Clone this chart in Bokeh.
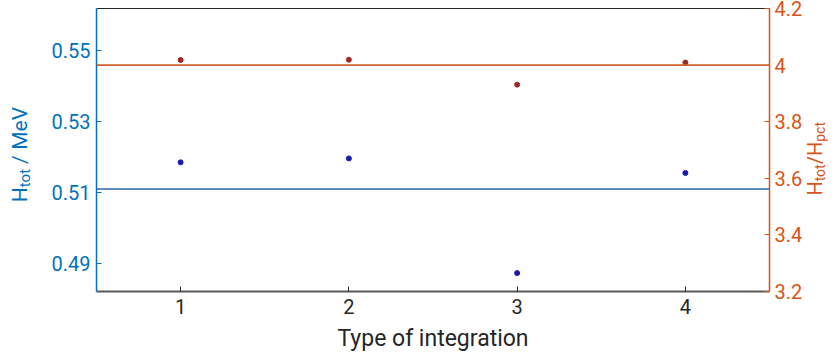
from bokeh.plotting import figure
from bokeh.models import (Range1d, LinearAxis, FixedTicker, Span, ColumnDataSource, Div)
from bokeh.layouts import row
from bokeh.embed import file_html
from bokeh.resources import INLINE

# ---- data ----
integration_type = [1, 2, 3, 4]
h_tot_mev = [0.5185, 0.5196, 0.4873, 0.5155]
h_ratio = [4.018, 4.019, 3.931, 4.009]
h_tot_reference = 0.511
h_ratio_reference = 4.0
x_ticks = [1, 2, 3, 4]
left_ticks = [0.49, 0.51, 0.53, 0.55]
right_ticks = [3.2, 3.4, 3.6, 3.8, 4.0, 4.2]
x_title = "Type of integration"

BLUE_AX = "#0072BD"
ORANGE_AX = "#D95319"
DARK = "#262626"
FONT = "Roboto"

FIG_H = 356
LEFT_W, FIG_W, RIGHT_W = 36, 759, 33

p = figure(width=FIG_W, height=FIG_H, output_backend="svg", toolbar_location=None,
           x_range=Range1d(0.5, 4.5), y_range=Range1d(0.48211, 0.56183),
           min_border_left=50, min_border_right=34, min_border_top=8, min_border_bottom=65)
p.grid.visible = False
p.outline_line_color = None
p.background_fill_color = "white"
p.border_fill_color = "white"

p.extra_y_ranges = {"ratio": Range1d(3.2, 4.2)}

# bottom axis
xa = p.xaxis[0]
xa.ticker = FixedTicker(ticks=x_ticks)
xa.axis_label = x_title
xa.axis_label_text_font = FONT
xa.axis_label_text_font_size = "23px"
xa.axis_label_text_font_style = "normal"
xa.axis_label_text_color = DARK
xa.axis_label_standoff = 8
xa.major_label_text_font = FONT
xa.major_label_text_font_size = "20px"
xa.major_label_text_color = DARK
xa.major_label_standoff = 7
xa.axis_line_color = "#595959"
xa.axis_line_width = 2
xa.major_tick_in = 5
xa.major_tick_out = 0
xa.major_tick_line_color = DARK
xa.minor_tick_line_color = None

# left axis
ya = p.yaxis[0]
ya.ticker = FixedTicker(ticks=left_ticks)
ya.major_label_text_font = FONT
ya.major_label_text_font_size = "20px"
ya.major_label_text_color = BLUE_AX
ya.major_label_standoff = 6
ya.axis_line_color = BLUE_AX
ya.axis_line_width = 1.5
ya.major_tick_in = 5
ya.major_tick_out = 0
ya.major_tick_line_color = BLUE_AX
ya.minor_tick_line_color = None

# right axis
ra = LinearAxis(y_range_name="ratio", ticker=FixedTicker(ticks=right_ticks))
ra.major_label_overrides = {4: "4"}
ra.major_label_text_font = FONT
ra.major_label_text_font_size = "20px"
ra.major_label_text_color = ORANGE_AX
ra.major_label_standoff = 5
ra.axis_line_color = ORANGE_AX
ra.axis_line_width = 1.5
ra.major_tick_in = 5
ra.major_tick_out = 0
ra.major_tick_line_color = ORANGE_AX
ra.minor_tick_line_color = None
p.add_layout(ra, "right")

# top border
ta = LinearAxis(ticker=FixedTicker(ticks=[]))
ta.major_label_text_font_size = "0px"
ta.major_label_standoff = 0
ta.major_tick_in = 0
ta.major_tick_out = 0
ta.major_tick_line_color = None
ta.minor_tick_line_color = None
ta.axis_line_color = DARK
ta.axis_line_width = 1.2
p.add_layout(ta, "above")

# reference lines
p.add_layout(Span(location=h_tot_reference, dimension="width", line_color="#2A64A0", line_width=1.6))
p.add_layout(Span(location=h_ratio_reference, dimension="width", y_range_name="ratio",
                  line_color="#D0602C", line_width=1.6))

src = ColumnDataSource(dict(x=integration_type, h=h_tot_mev, r=h_ratio))
p.scatter("x", "h", source=src, size=5, color="#1A1AB0")
p.scatter("x", "r", source=src, y_range_name="ratio", size=5, color="#9E2A22")

# rotated axis titles with real subscripts
def vtitle(html, color, box_h, shift_x, width, size):
    inner = (f'<div style="height:{box_h}px;width:{width}px;display:flex;align-items:center;'
             f'justify-content:flex-start;">'
             f'<span style="writing-mode:vertical-rl;transform:rotate(180deg);white-space:nowrap;'
             f'margin-left:{shift_x}px;font-family:Roboto;font-size:{size}px;line-height:1;'
             f'color:{color};">{html}</span></div>')
    return Div(text=inner, width=width, height=FIG_H)

def sub(t, size):
    return f'<sub style="font-size:{size}px;">{t}</sub>'

left_html = "H" + sub("tot", 15) + '<span style="padding:0 4px;">&nbsp;/&nbsp;</span>MeV'
right_html = "H" + sub("tot", 14) + "/H" + sub("pct", 14)
left_title = vtitle(left_html, BLUE_AX, 300, 5, LEFT_W, 21)
right_title = vtitle(right_html, ORANGE_AX, 308, -5, RIGHT_W, 20)

layout = row(left_title, p, right_title, spacing=0)
open("out.html", "w").write(file_html(layout, INLINE))
